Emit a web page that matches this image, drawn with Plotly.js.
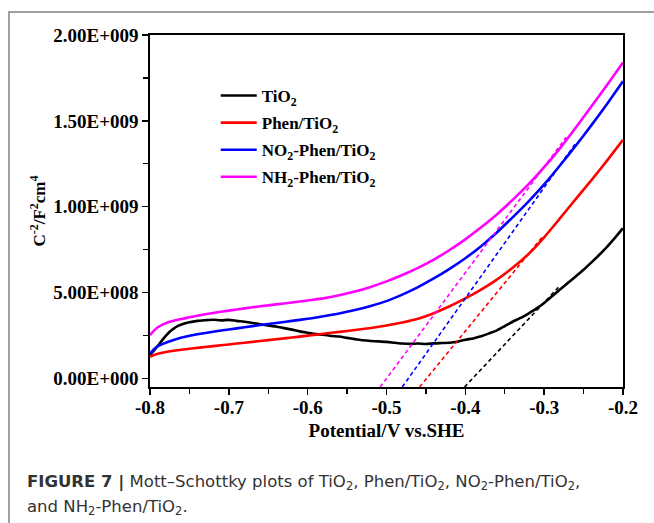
<!DOCTYPE html>
<html>
<head>
<meta charset="utf-8">
<script src="https://cdn.plot.ly/plotly-3.0.1.min.js"></script>
<style>
  html, body { margin: 0; padding: 0; background: #ffffff; }
  #wrap { position: relative; width: 654px; height: 523px; overflow: hidden; }
  #frame { position: absolute; left: 8px; top: 11px; width: 660px; height: 530px;
           border-left: 2px solid #a0a0a0; border-top: 2px solid #a0a0a0; }
  #chart { position: absolute; left: 0; top: 0; width: 654px; height: 523px; }
</style>
</head>
<body>
<div id="wrap">
  <div id="frame"></div>
  <div id="chart"></div>
</div>
<script>
// ---- data (y in units of 1e8 F^-2 cm^4) ----
const seriesNames = ["TiO<sub>2</sub>", "Phen/TiO<sub>2</sub>", "NO<sub>2</sub>-Phen/TiO<sub>2</sub>", "NH<sub>2</sub>-Phen/TiO<sub>2</sub>"];
const seriesColors = ["#000000", "#ff0000", "#0000ff", "#ff00ff"];

const tio2X = [-0.800,-0.795,-0.790,-0.785,-0.780,-0.775,-0.770,-0.765,-0.760,-0.750,-0.740,-0.730,-0.720,-0.710,-0.700,-0.690,-0.680,-0.670,-0.660,-0.650,-0.640,-0.630,-0.620,-0.610,-0.600,-0.590,-0.580,-0.570,-0.560,-0.550,-0.540,-0.530,-0.520,-0.510,-0.500,-0.490,-0.480,-0.470,-0.460,-0.450,-0.440,-0.430,-0.420,-0.410,-0.400,-0.390,-0.380,-0.370,-0.360,-0.350,-0.340,-0.330,-0.320,-0.310,-0.300,-0.290,-0.280,-0.270,-0.260,-0.250,-0.240,-0.230,-0.220,-0.210,-0.200];
const tio2Y = [1.38,1.62,1.90,2.20,2.48,2.72,2.90,3.04,3.14,3.27,3.35,3.39,3.42,3.38,3.41,3.35,3.30,3.23,3.15,3.08,3.02,2.93,2.84,2.74,2.66,2.58,2.55,2.47,2.44,2.36,2.29,2.22,2.18,2.16,2.13,2.08,2.03,2.01,2.03,2.00,2.04,2.06,2.08,2.14,2.25,2.33,2.45,2.62,2.80,3.05,3.30,3.52,3.78,4.06,4.39,4.78,5.18,5.56,5.94,6.33,6.76,7.20,7.68,8.20,8.75];

const smoothX = [-0.800,-0.795,-0.790,-0.780,-0.770,-0.760,-0.750,-0.740,-0.720,-0.700,-0.680,-0.660,-0.640,-0.620,-0.600,-0.580,-0.560,-0.540,-0.520,-0.500,-0.480,-0.460,-0.440,-0.420,-0.400,-0.380,-0.360,-0.340,-0.320,-0.300,-0.280,-0.260,-0.240,-0.220,-0.200];
const phenY = [1.25,1.36,1.44,1.54,1.61,1.67,1.73,1.78,1.88,1.98,2.08,2.18,2.28,2.38,2.49,2.60,2.71,2.82,2.94,3.08,3.26,3.48,3.80,4.20,4.66,5.17,5.75,6.44,7.24,8.22,9.32,10.44,11.55,12.70,13.89];
const no2Y  = [1.45,1.70,1.88,2.08,2.24,2.38,2.48,2.57,2.72,2.85,2.98,3.11,3.23,3.35,3.47,3.62,3.78,3.98,4.22,4.50,4.88,5.32,5.82,6.38,7.00,7.70,8.50,9.38,10.30,11.30,12.40,13.55,14.75,16.00,17.30];
const nh2Y  = [2.52,2.78,2.98,3.22,3.36,3.46,3.56,3.65,3.81,3.95,4.08,4.20,4.31,4.42,4.54,4.66,4.84,5.06,5.33,5.65,6.02,6.44,6.92,7.48,8.10,8.80,9.55,10.40,11.30,12.30,13.40,14.60,15.85,17.10,18.40];

// linear-fit (dashed) lines: end points
const fitTio2X = [-0.401, -0.282]; const fitTio2Y = [-0.5, 5.30];
const fitPhenX = [-0.458, -0.303]; const fitPhenY = [-0.5, 8.20];
const fitNo2X  = [-0.480, -0.260]; const fitNo2Y  = [-0.5, 13.70];
const fitNh2X  = [-0.508, -0.272]; const fitNh2Y  = [-0.5, 14.05];

const xTickVals = [-0.8, -0.7, -0.6, -0.5, -0.4, -0.3, -0.2];
const xTickText = ["-0.8", "-0.7", "-0.6", "-0.5", "-0.4", "-0.3", "-0.2"];
const yTickVals = [0, 5e8, 1e9, 1.5e9, 2e9];
const yTickText = ["0.00E+000", "5.00E+008", "1.00E+009", "1.50E+009", "2.00E+009"];
const yScale = 1e8;

const scaleY = a => a.map(v => v * yScale);
const serif = "Liberation Serif, Times New Roman, serif";
const captionFont = "DejaVu Sans, Arial, sans-serif";

const solidX = [tio2X, smoothX, smoothX, smoothX];
const solidY = [tio2Y, phenY, no2Y, nh2Y];
const fitX = [fitTio2X, fitPhenX, fitNo2X, fitNh2X];
const fitY = [fitTio2Y, fitPhenY, fitNo2Y, fitNh2Y];

const traces = [];
for (let i = 0; i < 4; i++) {
  traces.push({
    x: solidX[i], y: scaleY(solidY[i]), type: "scatter", mode: "lines",
    name: seriesNames[i], legendgroup: "g" + i,
    line: { color: seriesColors[i], width: 2.6, shape: "spline", smoothing: 0.6 }
  });
}
for (let i = 0; i < 4; i++) {
  traces.push({
    x: fitX[i], y: scaleY(fitY[i]), type: "scatter", mode: "lines",
    legendgroup: "g" + i,
    line: { color: seriesColors[i], width: 1.6, dash: "4px,3px" },
    showlegend: false, hoverinfo: "skip"
  });
}

const layout = {
  width: 654, height: 523,
  margin: { l: 150, r: 31, t: 35, b: 136, pad: 0 },
  paper_bgcolor: "rgba(0,0,0,0)", plot_bgcolor: "rgba(0,0,0,0)",
  showlegend: true,
  legend: {
    x: 0.139, y: 0.878, xanchor: "left", yanchor: "top",
    bgcolor: "rgba(0,0,0,0)", borderwidth: 0, itemwidth: 36,
    font: { family: serif, size: 17, weight: "bold", color: "#000" },
    tracegroupgap: 2, traceorder: "grouped"
  },
  xaxis: {
    range: [-0.8, -0.2], tickvals: xTickVals, ticktext: xTickText,
    showline: true, linecolor: "#000", linewidth: 1.6, mirror: true,
    ticks: "outside", ticklen: 6, tickwidth: 1.5, tickcolor: "#000",
    ticklabelstandoff: -3,
    minor: { dtick: 0.05, ticks: "outside", ticklen: 5, tickwidth: 1.3, tickcolor: "#000", showgrid: false },
    showgrid: false, zeroline: false,
    tickfont: { family: serif, size: 19, weight: "bold", color: "#000" },
    title: { text: "Potential/V vs.SHE", standoff: 6,
             font: { family: serif, size: 19, weight: "bold", color: "#000" } }
  },
  yaxis: {
    range: [-0.5e8, 2.0e9], tickvals: yTickVals, ticktext: yTickText,
    showline: true, linecolor: "#000", linewidth: 1.6, mirror: true,
    ticks: "outside", ticklen: 6, tickwidth: 1.5, tickcolor: "#000",
    minor: { dtick: 2.5e8, tick0: 0, ticks: "outside", ticklen: 5, tickwidth: 1.3, tickcolor: "#000", showgrid: false },
    showgrid: false, zeroline: false,
    tickfont: { family: serif, size: 19, weight: "bold", color: "#000" },
    title: { text: "C<sup>-2</sup>/F<sup>2</sup>cm<sup>4</sup>", standoff: 3,
             font: { family: serif, size: 17, weight: "bold", color: "#000" } }
  },
  annotations: [{
    xref: "paper", yref: "paper", x: -0.264, y: -0.2713, xanchor: "left", yanchor: "middle",
    align: "left", showarrow: false,
    text: "<b>FIGURE 7 |</b> Mott–Schottky plots of TiO<sub>2</sub>, Phen/TiO<sub>2</sub>, NO<sub>2</sub>-Phen/TiO<sub>2</sub>,",
    font: { family: captionFont, size: 16.5, color: "#333333" }
  }, {
    xref: "paper", yref: "paper", x: -0.264, y: -0.3423, xanchor: "left", yanchor: "middle",
    align: "left", showarrow: false,
    text: "and NH<sub>2</sub>-Phen/TiO<sub>2</sub>.",
    font: { family: captionFont, size: 16.5, color: "#333333" }
  }]
};

Plotly.newPlot("chart", traces, layout, { displayModeBar: false, staticPlot: true });
</script>
</body>
</html>
